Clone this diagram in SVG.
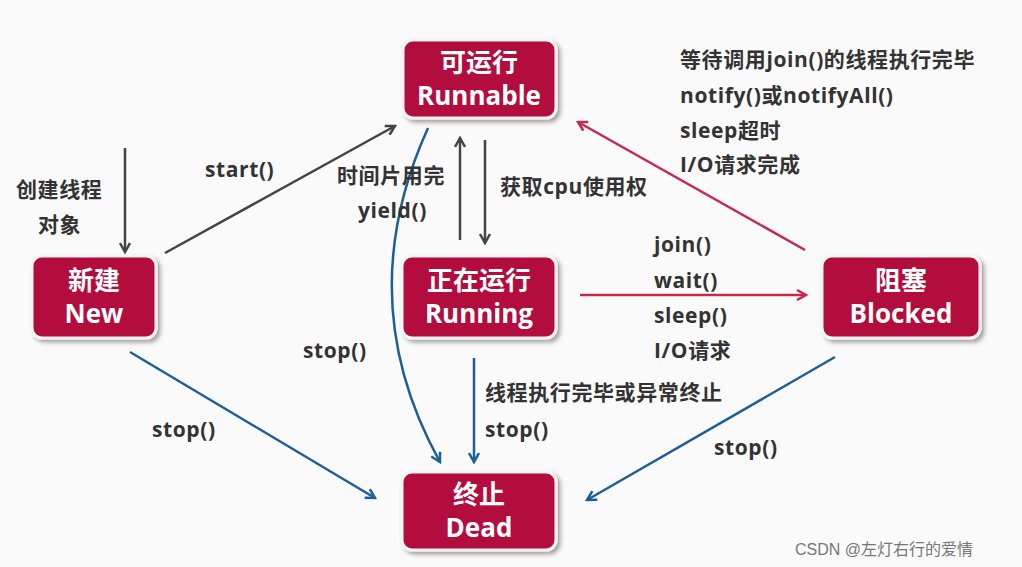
<svg xmlns="http://www.w3.org/2000/svg" width="1022" height="567" viewBox="0 0 1022 567">
<defs>
<style>
.n{fill:#b3103e;stroke:#f4f4f4;stroke-width:3;filter:url(#sh)}
.nt{font-family:"Open Sans","Noto Sans CJK SC",sans-serif;font-weight:bold;font-size:26px;fill:#fff;text-anchor:middle}
.t{font-family:"Open Sans","Noto Sans CJK SC",sans-serif;font-weight:bold;font-size:21px;letter-spacing:0.6px;fill:#333}
.g{stroke:#444;stroke-width:2.5;fill:none;marker-end:url(#ag)}
.r{stroke:#c4294f;stroke-width:2.5;fill:none;marker-end:url(#ar)}
.b{stroke:#1c5f98;stroke-width:2.5;fill:none;marker-end:url(#ab)}
</style>
<filter id="sh" x="-10%" y="-10%" width="125%" height="130%"><feDropShadow dx="3" dy="3" stdDeviation="2" flood-color="#000" flood-opacity="0.35"/></filter>
<marker id="ag" markerWidth="12" markerHeight="12" refX="10" refY="6" orient="auto" markerUnits="userSpaceOnUse"><path d="M1,1 L10,6 L1,11" fill="none" stroke="#444" stroke-width="2.5"/></marker>
<marker id="ar" markerWidth="12" markerHeight="12" refX="10" refY="6" orient="auto" markerUnits="userSpaceOnUse"><path d="M1,1 L10,6 L1,11" fill="none" stroke="#c4294f" stroke-width="2.5"/></marker>
<marker id="ab" markerWidth="12" markerHeight="12" refX="10" refY="6" orient="auto" markerUnits="userSpaceOnUse"><path d="M1,1 L10,6 L1,11" fill="none" stroke="#1c5f98" stroke-width="2.5"/></marker>
</defs>
<rect width="1022" height="567" fill="#fafafa"/>
<g id="connectors">
<path class="g" d="M125,148 L125,252"/>
<path class="g" d="M165,253 L395,126"/>
<path class="g" d="M485,140 L485,243"/>
<path class="g" d="M460,240 L460,138"/>
<path class="b" d="M428,128 Q350,300 440,462"/>
<path class="r" d="M580,295 L806,295"/>
<path class="r" d="M805,250 L578,122"/>
<path class="b" d="M130,352 L375,498"/>
<path class="b" d="M474,358 L474,462"/>
<path class="b" d="M835,357 L587,500"/>
</g>
<g id="runnable"><rect class="n" x="403" y="40" width="153" height="78" rx="10"/><text class="nt" x="479" y="72">可运行</text><text class="nt" x="479" y="105">Runnable</text></g>
<g id="new"><rect class="n" x="32" y="256" width="124" height="82" rx="10"/><text class="nt" x="94" y="290">新建</text><text class="nt" x="94" y="323">New</text></g>
<g id="running"><rect class="n" x="402" y="256" width="154" height="82" rx="10"/><text class="nt" x="479" y="290">正在运行</text><text class="nt" x="479" y="323">Running</text></g>
<g id="blocked"><rect class="n" x="822" y="256" width="158" height="82" rx="10"/><text class="nt" x="901" y="290">阻塞</text><text class="nt" x="901" y="323">Blocked</text></g>
<g id="dead"><rect class="n" x="402" y="472" width="154" height="78" rx="10"/><text class="nt" x="479" y="504">终止</text><text class="nt" x="479" y="537">Dead</text></g>
<g id="labels">
<text class="t" x="16" y="197">创建线程</text>
<text class="t" x="38" y="232">对象</text>
<text class="t" x="205" y="177">start()</text>
<text class="t" x="337" y="183">时间片用完</text>
<text class="t" x="358" y="218">yield()</text>
<text class="t" x="500" y="194">获取cpu使用权</text>
<text class="t" x="680" y="67">等待调用join()的线程执行完毕</text>
<text class="t" x="680" y="103">notify()或notifyAll()</text>
<text class="t" x="680" y="138">sleep超时</text>
<text class="t" x="680" y="172">I/O请求完成</text>
<text class="t" x="654" y="252">join()</text>
<text class="t" x="654" y="288">wait()</text>
<text class="t" x="654" y="323">sleep()</text>
<text class="t" x="654" y="358">I/O请求</text>
<text class="t" x="303" y="358">stop()</text>
<text class="t" x="485" y="400">线程执行完毕或异常终止</text>
<text class="t" x="485" y="437">stop()</text>
<text class="t" x="152" y="437">stop()</text>
<text class="t" x="714" y="455">stop()</text>
<text x="795" y="555" font-family="Liberation Sans,'Noto Sans CJK SC',sans-serif" font-size="16" fill="#777">CSDN @左灯右行的爱情</text>
</g>
</svg>
